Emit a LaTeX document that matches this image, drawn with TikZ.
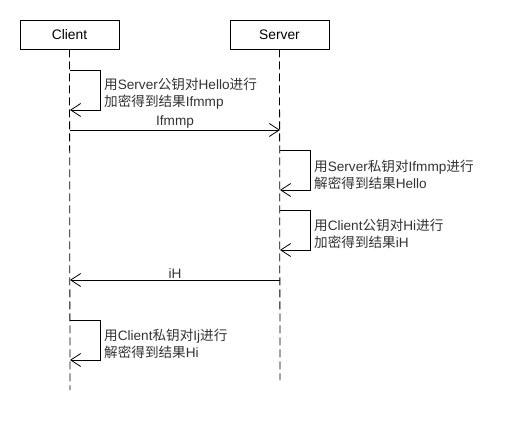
\documentclass[tikz,border=0pt]{standalone}
\usepackage{fontspec}
\setmainfont{Liberation Sans}
\newfontfamily\cjk{Noto Sans CJK SC}
\usetikzlibrary{arrows.meta}
\definecolor{txt}{HTML}{333333}
\newcommand{\zh}[1]{{\cjk #1}}
\begin{document}
\begin{tikzpicture}[x=1pt,y=-1pt,
  actor/.style={draw,line width=0.8pt,minimum width=99pt,minimum height=29pt,inner sep=0pt,font=\fontsize{13.8}{14}\selectfont},
  life/.style={line width=0.8pt,dash pattern=on 8pt off 4pt},
  msg/.style={line width=0.8pt,-{Straight Barb[length=10pt,width=13pt,line width=0.8pt]}},
  note/.style={anchor=west,align=left,inner sep=0pt,text=txt,font=\fontsize{13.6}{17}\selectfont},
  mlabel/.style={anchor=south,inner sep=1pt,text=txt,font=\fontsize{13.6}{14}\selectfont}]
\useasboundingbox (0,0) rectangle (510,430);
\node[actor] (client) at (69.5,34.5) {Client};
\node[actor] (server) at (279.5,34.5) {Server};
\coordinate (cend) at (70,390);
\coordinate (send) at (280,380);
\draw[life] (client.south) -- (cend);
\draw[life] (server.south) -- (send);
% self 1
\coordinate (a1) at (70,70); \coordinate (b1) at (70,110);
\draw[msg] (a1) -- (100,70) -- (100,110) -- (b1);
\node[note] (n1) at (104,94) {\zh{用}Server\zh{公钥对}Hello\zh{进行}\\\zh{加密得到结果}Ifmmp};
% msg Ifmmp
\coordinate (m1a) at (70,130); \coordinate (m1b) at (280,130);
\draw[msg] (m1a) -- node[mlabel] (l1) {Ifmmp} (m1b);
% self 2
\coordinate (a2) at (280,150); \coordinate (b2) at (280,190);
\draw[msg] (a2) -- (310,150) -- (310,190) -- (b2);
\node[note] (n2) at (314,174.5) {\zh{用}Server\zh{私钥对}Ifmmp\zh{进行}\\\zh{解密得到结果}Hello};
% self 3
\coordinate (a3) at (280,210); \coordinate (b3) at (280,250);
\draw[msg] (a3) -- (310,210) -- (310,250) -- (b3);
\node[note] (n3) at (314,234) {\zh{用}Client\zh{公钥对}Hi\zh{进行}\\\zh{加密得到结果}iH};
% msg iH
\coordinate (m2a) at (280,280); \coordinate (m2b) at (70,280);
\draw[msg] (m2a) -- node[mlabel] (l2) {iH} (m2b);
% self 4
\coordinate (a4) at (70,320); \coordinate (b4) at (70,360);
\draw[msg] (a4) -- (100,320) -- (100,360) -- (b4);
\node[note] (n4) at (104,344) {\zh{用}Client\zh{私钥对}Ij\zh{进行}\\\zh{解密得到结果}Hi};
\end{tikzpicture}
\end{document}
